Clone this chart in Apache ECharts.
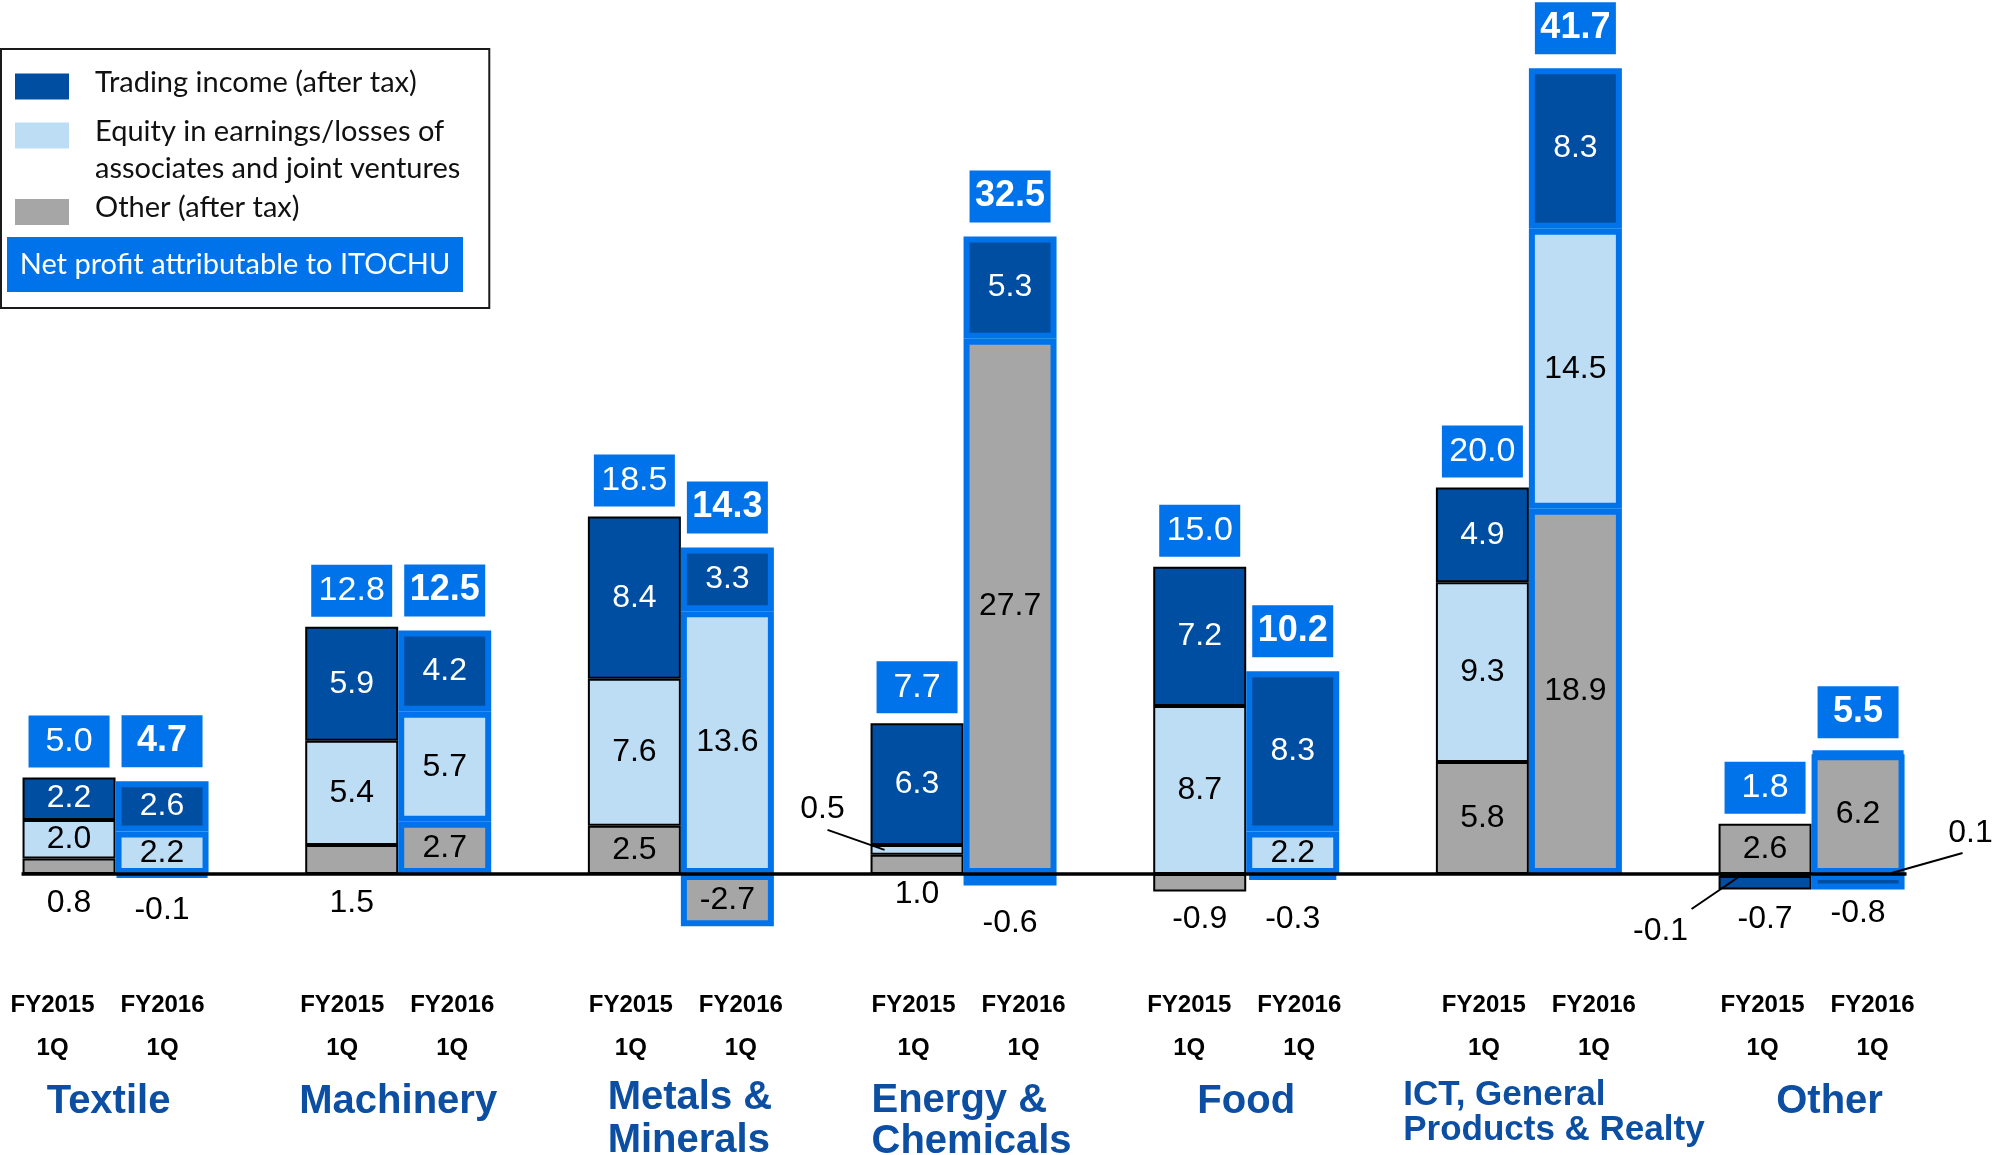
<!DOCTYPE html>
<html>
<head>
<meta charset="utf-8">
<script src="https://cdn.jsdelivr.net/npm/echarts@6/dist/echarts.min.js"></script>
<style>
html,body{margin:0;padding:0;background:#fff;}
#chart{width:1995px;height:1155px;}
</style>
</head>
<body>
<div id="chart"></div>
<script>
// ---------------- data ----------------
const groups = ['Textile', 'Machinery', 'Metals &\nMinerals', 'Energy &\nChemicals', 'Food', 'ICT, General\nProducts & Realty', 'Other'];
const periods = ['FY2015', 'FY2016'];
const quarter = '1Q';

const trading2015 = [2.2, 5.9, 8.4, 6.3, 7.2, 4.9, -0.7];
const equity2015  = [2.0, 5.4, 7.6, 0.5, 8.7, 9.3, -0.1];
const other2015   = [0.8, 1.5, 2.5, 1.0, -0.9, 5.8, 2.6];
const total2015   = [5.0, 12.8, 18.5, 7.7, 15.0, 20.0, 1.8];

const trading2016 = [2.6, 4.2, 3.3, 5.3, 8.3, 8.3, -0.8];
const equity2016  = [2.2, 5.7, 13.6, -0.6, 2.2, 14.5, 0.1];
const other2016   = [-0.1, 2.7, -2.7, 27.7, -0.3, 18.9, 6.2];
const total2016   = [4.7, 12.5, 14.3, 32.5, 10.2, 41.7, 5.5];

const names = {
  trading: 'Trading income (after tax)',
  equity: 'Equity in earnings/losses of\nassociates and joint ventures',
  other: 'Other (after tax)',
  total: 'Net profit attributable to ITOCHU'
};

// ---------------- styles ----------------
const C = { dark: '#004EA2', light: '#BDDDF5', grey: '#A6A6A6', bright: '#0073EA', name: '#0B4EA2' };
const BAR_W = 93;
const NUM_FONT = 'Liberation Sans';
const LEG_FONT = 'Lato';

// labels placed outside their segment (position / distance) or hidden (drawn as callouts)
const labelOverride = {
  other2015:   { 0: { position: 'bottom', distance: 13 }, 1: { position: 'bottom', distance: 13 }, 3: { position: 'bottom', distance: 4 }, 4: { position: 'bottom', distance: 12 } },
  other2016:   { 0: { position: 'bottom', distance: 16 }, 4: { position: 'bottom', distance: 23 } },
  equity2015:  { 3: { show: false }, 6: { show: false } },
  equity2016:  { 3: { position: 'bottom', distance: 22 }, 6: { show: false } },
  trading2015: { 6: { position: 'bottom', distance: 14 } },
  trading2016: { 6: { position: 'bottom', distance: 8 } }
};

// callouts with leader lines: [category, period, anchor value, label value]
const callouts = [
  [3, 0, other2015[3] + equity2015[3] / 2, equity2015[3]],
  [6, 0, equity2015[6] / 2, equity2015[6]],
  [6, 1, equity2016[6] / 2, equity2016[6]]
];
// pixel offsets relative to the bar's left edge / anchor point
const calloutGeom = [
  { end: [14, 0], start: [-43, -20], text: [-48, -41] },
  { end: [20, 2], start: [-27, 34], text: [-58, 56] },
  { end: [80, 0], start: [151, -20], text: [159, -40] }
];

const groupLabelShift = [-7, 0, 9, 8, 0, 25, 18];
const periodLabelShift = [-8, -1, 5, 5, -2, 10, 6];

// ---------------- helpers ----------------
const measureCtx = document.createElement('canvas').getContext('2d');
function textWidth(str, font) { measureCtx.font = font; return measureCtx.measureText(str).width; }
function fmt1(p) { return Number(p.value).toFixed(1); }

function stackBar(name, stack, values, color, textColor, border, overrides) {
  return {
    type: 'bar', name: name, stack: stack, barWidth: BAR_W, barGap: '0%',
    silent: true, emphasis: { disabled: true },
    itemStyle: { color: color, borderColor: border.color, borderWidth: border.width },
    label: { show: true, position: 'inside', formatter: fmt1, color: textColor, fontFamily: NUM_FONT, fontSize: 32, lineHeight: 32 },
    data: values.map(function (v, i) {
      if (overrides && overrides[i]) return { value: v, label: Object.assign({ color: '#000' }, overrides[i]) };
      return v;
    }),
    z: 2
  };
}

function totalBar(stack, totals, bold, dist, fontSize) {
  return {
    type: 'bar', name: names.total, stack: stack, stackStrategy: 'positive',
    barWidth: BAR_W, barGap: '0%', silent: true, emphasis: { disabled: true },
    itemStyle: { color: 'rgba(0,0,0,0)', borderWidth: 0 },
    label: {
      show: true, position: 'top', distance: dist,
      formatter: function (p) { return totals[p.dataIndex].toFixed(1); },
      backgroundColor: C.bright, color: '#fff', fontFamily: NUM_FONT, fontSize: fontSize,
      fontWeight: bold ? 'bold' : 'normal', width: 81, lineHeight: 36, padding: [8, 0, 8, 0], align: 'center'
    },
    data: totals.map(function () { return 0; }),
    z: 4
  };
}

// ---------------- axis label rich styles ----------------
const rich = {
  fy: { fontFamily: NUM_FONT, fontWeight: 'bold', fontSize: 24, color: '#000', width: 110, align: 'center', lineHeight: 43 }
};
groups.forEach(function (g, i) {
  const lines = g.split('\n');
  const fs = i === 5 ? 35 : 40;
  const font = 'bold ' + fs + 'px "' + NUM_FONT + '"';
  const widths = lines.map(function (l) { return textWidth(l, font); });
  const maxW = Math.max.apply(null, widths);
  const s = groupLabelShift[i];
  const lh = lines.length === 1 ? [63] : (i === 5 ? [51, 19] : (i === 3 ? [61, 21] : [55, 31]));
  lines.forEach(function (l, j) {
    rich['g' + i + '_' + j] = {
      fontFamily: NUM_FONT, fontWeight: 'bold', fontSize: fs, color: C.name, lineHeight: lh[j],
      align: 'center',
      padding: [0, Math.max(0, -2 * s) + (maxW - widths[j]), 0, Math.max(0, 2 * s)]
    };
  });
  rich['sp' + i] = { width: Math.max(1, Math.abs(2 * periodLabelShift[i])), fontSize: 10, lineHeight: 43 };
});

function axisFormatter(value, index) {
  const lines = value.split('\n');
  const sp = '{sp' + index + '| }';
  const right = periodLabelShift[index] >= 0;
  function wrap(s) { return right ? sp + s : s + sp; }
  let s = wrap(periods.map(function (p) { return '{fy|' + p + '}'; }).join('')) + '\n';
  s += wrap(periods.map(function () { return '{fy|' + quarter + '}'; }).join('')) + '\n';
  s += lines.map(function (l, j) { return '{g' + index + '_' + j + '|' + l + '}'; }).join('\n');
  return s;
}

// legend text: spacer lines keep the swatch aligned with the first text line
function legendFormatter(name) {
  const tail = '\n{tiny| }';
  if (name === names.equity) {
    const parts = name.split('\n');
    return '{sp2| }\n{t2|' + parts[0] + '}\n{t2|' + parts[1] + '}' + tail;
  }
  if (name === names.other) return '{sp3| }\n{t|' + name + '}\n{sp3| }' + tail;
  return '{t|' + name + '}' + tail;
}

// ---------------- chart ----------------
const chart = echarts.init(document.getElementById('chart'), null, { renderer: 'canvas' });

const black = { color: '#000', width: 2 };
const blue = { color: C.bright, width: 6 };
const legFontBase = { fontFamily: LEG_FONT, fontSize: 29, color: '#111' };

const option = {
  animation: false,
  backgroundColor: '#fff',
  grid: { left: -25.8, right: 42.1, top: 23.92, bottom: 203.72, containLabel: false, outerBoundsMode: 'none' },
  xAxis: {
    type: 'category', data: groups,
    axisLine: { show: false, onZero: false }, axisTick: { show: false },
    axisLabel: { interval: 0, margin: 33, color: '#000', formatter: axisFormatter, rich: rich, hideOverlap: false }
  },
  yAxis: { type: 'value', min: -4, max: 44, interval: 4, show: false },
  legend: [
    {
      orient: 'vertical', left: 1, top: 49, padding: [19, 29, 53, 14], itemGap: -27.5,
      itemWidth: 54, itemHeight: 26, icon: 'rect', selectedMode: false,
      borderColor: '#1a1a1a', borderWidth: 2,
      itemStyle: { borderWidth: 0 },
      formatter: legendFormatter,
      textStyle: {
        fontFamily: LEG_FONT, fontSize: 29, color: '#111',
        padding: [0, 0, 0, 21], backgroundColor: 'rgba(255,255,255,0)', width: 360,
        rich: {
          t: Object.assign({ lineHeight: 26 }, legFontBase),
          t2: Object.assign({ lineHeight: 37 }, legFontBase),
          sp2: Object.assign({ lineHeight: 37 }, legFontBase),
          sp3: Object.assign({ lineHeight: 26 }, legFontBase),
          tiny: { fontSize: 6, lineHeight: 8 }
        }
      },
      data: [names.trading, names.equity, names.other]
    },
    {
      left: 2, top: 237, padding: 0, itemWidth: 0, itemHeight: 55, selectedMode: false,
      formatter: '{n|{name}}',
      textStyle: {
        backgroundColor: C.bright, padding: [10, 0, 10, 0],
        rich: { n: { width: 456, align: 'center', color: '#fff', fontFamily: LEG_FONT, fontSize: 29, lineHeight: 35 } }
      },
      data: [names.total]
    }
  ],
  series: [
    stackBar(names.other, 'FY2015', other2015, C.grey, '#000', black, labelOverride.other2015),
    stackBar(names.equity, 'FY2015', equity2015, C.light, '#000', black, labelOverride.equity2015),
    stackBar(names.trading, 'FY2015', trading2015, C.dark, '#fff', black, labelOverride.trading2015),
    totalBar('FY2015', total2015, false, 10, 34),
    stackBar(names.other, 'FY2016', other2016, C.grey, '#000', blue, labelOverride.other2016),
    stackBar(names.equity, 'FY2016', equity2016, C.light, '#000', blue, labelOverride.equity2016),
    stackBar(names.trading, 'FY2016', trading2016, C.dark, '#fff', blue, labelOverride.trading2016),
    totalBar('FY2016', total2016, true, 14, 36),
    {
      type: 'custom', name: 'zero line', silent: true, z: 5,
      data: [[0, 0]],
      renderItem: function (params, api) {
        const a = api.coord([0, 0]);
        const b = api.coord([groups.length - 1, 0]);
        return {
          type: 'line',
          shape: { x1: a[0] - BAR_W - 1, y1: a[1], x2: b[0] + BAR_W + 2, y2: b[1] },
          style: { stroke: '#000', lineWidth: 3.5 }
        };
      }
    },
    {
      type: 'custom', name: 'callouts', silent: true, z: 6,
      data: callouts,
      renderItem: function (params, api) {
        const g = calloutGeom[params.dataIndex];
        const p = api.coord([api.value(0), api.value(2)]);
        const bx = p[0] + (api.value(1) === 0 ? -BAR_W : 0);
        const txt = callouts[params.dataIndex][3].toFixed(1);
        return {
          type: 'group',
          children: [
            {
              type: 'line',
              shape: { x1: bx + g.start[0], y1: p[1] + g.start[1], x2: bx + g.end[0], y2: p[1] + g.end[1] },
              style: { stroke: '#000', lineWidth: 2 }
            },
            {
              type: 'text', x: bx + g.text[0], y: p[1] + g.text[1],
              style: {
                text: txt, fill: '#000', textFill: '#000',
                font: '32px "' + NUM_FONT + '"',
                align: 'center', verticalAlign: 'middle', textAlign: 'center', textVerticalAlign: 'middle'
              }
            }
          ]
        };
      }
    }
  ]
};

chart.setOption(option);
</script>
</body>
</html>
